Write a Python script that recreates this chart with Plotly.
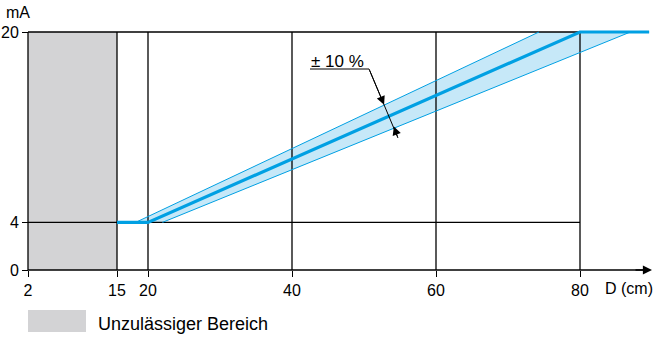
import numpy as np
import plotly.graph_objects as go

# ---- data -------------------------------------------------------------
# axis ticks
d_ticks = [2, 15, 20, 40, 60, 80]          # distance D (cm)
ma_ticks = [0, 4, 20]                      # output current (mA)

# inadmissible range (cm)
zone_d = [2, 15]

# nominal characteristic D (cm) -> I (mA)
nominal_d = [15, 20, 80, 89.6]
nominal_ma = [4, 4, 20, 20]

# tolerance band (± 10 %) edges
upper_d = [18, 74.3]
upper_ma = [4, 20]
lower_d = [22, 87, 89.6]
lower_ma = [4, 20, 20]

# grid levels
grid_d = [15, 20, 40, 60, 80]
grid_ma = [4, 20]

# ---- scale: the range below 20 cm is compressed ------------------------
SCALE_D = [2, 15, 20, 100]
SCALE_X = [3.333, 15.694, 20, 100]


def sx(d):
    return np.interp(d, SCALE_D, SCALE_X)


BLUE = "#00a0e3"
FILL = "#c6e8f8"
GREY = "#d3d3d5"
FONT = "Liberation Sans, Arial, sans-serif"

fig = go.Figure()

# tolerance band area, saturated at 20 mA
band_x = list(sx([upper_d[0], upper_d[1], lower_d[1], lower_d[0]]))
band_y = [upper_ma[0], upper_ma[1], lower_ma[1], lower_ma[0]]
fig.add_trace(go.Scatter(x=band_x, y=band_y, fill="toself", fillcolor=FILL,
                         mode="none", hoverinfo="skip"))

# black frame: grid lines and axes
bx, by = [], []
for d in grid_d:
    bx += [sx(d), sx(d), None]
    by += [0, 20, None]
for m in grid_ma:
    bx += [sx(d_ticks[0]), sx(80), None]
    by += [m, m, None]
bx += [sx(d_ticks[0]), sx(d_ticks[0]), None]   # y axis
by += [0, 20, None]
bx += [sx(d_ticks[0]), 88.9, None]             # x axis
by += [0, 0, None]
fig.add_trace(go.Scatter(x=bx, y=by, mode="lines", hoverinfo="skip",
                         line=dict(color="black", width=1.3)))

# band edges
fig.add_trace(go.Scatter(x=sx(upper_d), y=upper_ma, mode="lines", hoverinfo="skip",
                         line=dict(color=BLUE, width=1)))
fig.add_trace(go.Scatter(x=sx(lower_d), y=lower_ma, mode="lines", hoverinfo="skip",
                         line=dict(color=BLUE, width=1)))

# nominal characteristic
fig.add_trace(go.Scatter(x=sx(nominal_d), y=nominal_ma, mode="lines", hoverinfo="skip",
                         line=dict(color=BLUE, width=3.2)))

# tolerance label leader
fig.add_trace(go.Scatter(x=[42.5, 50.7, 54.72], y=[16.89, 16.89, 11.09], mode="lines",
                         hoverinfo="skip", line=dict(color="black", width=1)))

annotations = [
    dict(x=52.79, y=13.89, ax=50.7, ay=16.89, axref="x", ayref="y", text="",
         showarrow=True, arrowhead=2, arrowsize=1.7, arrowwidth=1, arrowcolor="black"),
    dict(x=54.15, y=12.06, ax=54.72, ay=11.09, axref="x", ayref="y", text="",
         showarrow=True, arrowhead=2, arrowsize=1.7, arrowwidth=1, arrowcolor="black"),
    # x-axis arrow
    dict(x=90.0, y=0, ax=87.5, ay=0, axref="x", ayref="y", text="",
         showarrow=True, arrowhead=2, arrowsize=1.4, arrowwidth=1.3, arrowcolor="black"),
    dict(x=46.3, y=17.55, text="± 10 %", showarrow=False, yanchor="middle",
         font=dict(size=17, color="black", family=FONT)),
    dict(x=18 / 654, y=(338 - 13) / 338, xref="paper", yref="paper", text="mA",
         xanchor="center", yanchor="middle", showarrow=False,
         font=dict(size=16, color="black", family=FONT)),
    dict(x=603 / 654, y=(338 - 288) / 338, xref="paper", yref="paper", text="D (cm)",
         xanchor="left", yanchor="middle", showarrow=False,
         font=dict(size=16, color="black", family=FONT)),
    dict(x=96 / 654, y=(338 - 324) / 338, xref="paper", yref="paper",
         text="Unzulässiger Bereich", xanchor="left", yanchor="middle", showarrow=False,
         font=dict(size=18, color="black", family=FONT)),
]

shapes = [
    dict(type="rect", xref="x", yref="y", x0=sx(zone_d[0]), x1=sx(zone_d[1]), y0=0, y1=20,
         fillcolor=GREY, line=dict(width=0), layer="below"),
    dict(type="rect", xref="paper", yref="paper", x0=28 / 654, x1=86 / 654,
         y0=(338 - 332) / 338, y1=(338 - 310) / 338,
         fillcolor=GREY, line=dict(width=0), layer="below"),
]

tickfont = dict(size=16, color="black", family=FONT)
fig.update_layout(
    width=654, height=338, margin=dict(l=0, r=0, t=0, b=0),
    paper_bgcolor="white", plot_bgcolor="white", showlegend=False,
    shapes=shapes, annotations=annotations,
    xaxis=dict(range=[-0.5556, 90.278], tickvals=list(sx(d_ticks)),
               ticktext=[str(d) for d in d_ticks], ticks="outside", ticklen=6,
               tickwidth=1.3, tickcolor="black", showgrid=False, zeroline=False,
               showline=False, anchor="free", position=(338 - 270) / 338,
               tickfont=tickfont),
    yaxis=dict(range=[-5.714, 22.689], tickvals=ma_ticks, ticks="outside", ticklen=6,
               tickwidth=1.3, tickcolor="black", showgrid=False, zeroline=False,
               showline=False, anchor="free", position=28 / 654,
               tickfont=tickfont),
)

fig.write_html("out.html")
